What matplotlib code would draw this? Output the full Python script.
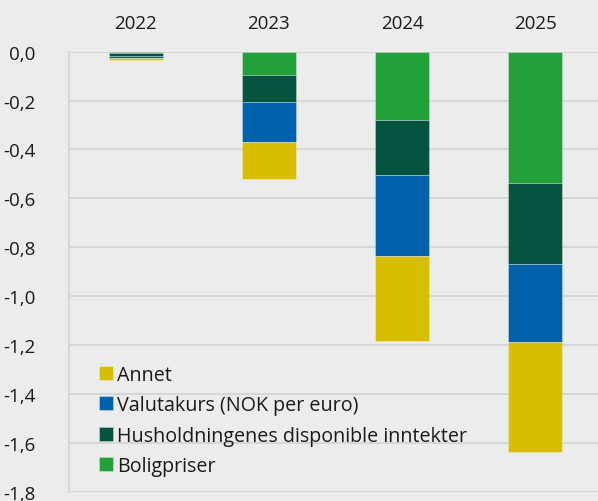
import matplotlib.pyplot as plt
import numpy as np

plt.rcParams['font.family'] = ['Open Sans', 'DejaVu Sans']

# Data
years = ['2022', '2023', '2024', '2025']
boligpriser = [-0.005, -0.094, -0.279, -0.538]
husholdning = [-0.013, -0.112, -0.225, -0.330]
valutakurs = [-0.008, -0.162, -0.332, -0.321]
annet = [-0.008, -0.153, -0.346, -0.449]

series = [
    ('Boligpriser', boligpriser, '#22a03a'),
    ('Husholdningenes disponible inntekter', husholdning, '#05543f'),
    ('Valutakurs (NOK per euro)', valutakurs, '#0062ad'),
    ('Annet', annet, '#d8be00'),
]

bg = '#ececec'
grid = '#d6d6d6'

fig = plt.figure(figsize=(5.98, 5.02), dpi=100, facecolor=bg)
ax = fig.add_axes([69 / 598, 9.3 / 502, 533 / 598, 440 / 502])
ax.set_facecolor(bg)

x = np.arange(len(years))
bottom = np.zeros(len(years))
handles = []
for name, vals, col in series:
    b = ax.bar(x, vals, width=0.405, bottom=bottom, color=col,
               edgecolor=(1, 1, 1, 0.35), linewidth=0.6, label=name, zorder=3)
    handles.append(b)
    bottom += np.array(vals)

ax.set_xlim(-0.5, 3.5)
ax.set_ylim(-1.8, 0)
yt = np.arange(-1.8, 0.01, 0.2)
ax.set_yticks(yt)
ax.set_yticklabels([f'{v:.1f}'.replace('.', ',').replace('-0,0', '0,0') for v in yt])
ax.yaxis.grid(True, color=grid, linewidth=1.5, zorder=0)
ax.set_axisbelow(True)

ax.xaxis.tick_top()
ax.set_xticks(x)
ax.set_xticklabels(years)
ax.tick_params(axis='x', length=0, pad=14, labelsize=13.5, colors='#1a1a1a')
ax.tick_params(axis='y', length=0, pad=24, labelsize=13.5, colors='#1a1a1a')

for s in ['top', 'right', 'bottom']:
    ax.spines[s].set_visible(False)
ax.spines['left'].set_color(grid)
ax.spines['left'].set_linewidth(1.5)

leg = ax.legend(handles[::-1], [s[0] for s in series][::-1],
                loc='upper left', bbox_to_anchor=(99 / 598, 1 - 366 / 502),
                bbox_transform=fig.transFigure, frameon=False, fontsize=14.2,
                handlelength=0.72, handleheight=0.72, handletextpad=0.2,
                labelspacing=0.52, borderaxespad=0, borderpad=0)
for t in leg.get_texts():
    t.set_color('#1a1a1a')

fig.savefig('out.png', dpi=100, facecolor=bg)
